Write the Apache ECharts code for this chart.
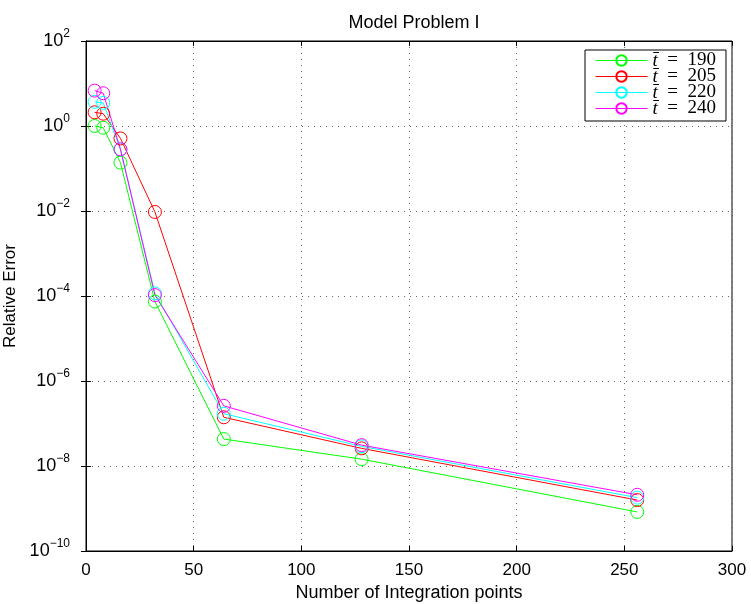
<!DOCTYPE html>
<html>
<head>
<meta charset="utf-8">
<script src="https://cdn.jsdelivr.net/npm/echarts@6/dist/echarts.min.js"></script>
<style>
  html, body { margin: 0; padding: 0; background: #fff; }
  #main { width: 751px; height: 604px; }
</style>
</head>
<body>
<div id="main"></div>
<script>
// number of integration points
var points = [4, 8, 16, 32, 64, 128, 256];
// relative error for each t-bar
var err190 = [1.0, 0.91, 0.137, 7.4e-5, 4.3e-8, 1.45e-8, 8.3e-10];
var err205 = [2.1, 1.95, 0.51, 0.0095, 1.4e-7, 2.6e-8, 1.58e-9];
var err220 = [3.7, 3.5, 0.28, 1.15e-4, 1.7e-7, 2.9e-8, 1.8e-9];
var err240 = [6.8, 5.9, 0.283, 1.05e-4, 2.6e-7, 3.1e-8, 2.1e-9];
var names = ['190', '205', '220', '240'];
var colors = ['#00ff00', '#ff0000', '#00ffff', '#ff00ff'];

function pairs(ys) {
    return points.map(function (x, i) { return [x, ys[i]]; });
}

var myChart = echarts.init(document.getElementById('main'));
var sans = 'Liberation Sans, Arial, sans-serif';
var serif = 'Liberation Serif, Times New Roman, serif';
var dotted = { color: '#666', type: [1, 5], width: 1 };
var tick = { inside: true, length: 5, lineStyle: { color: '#000' } };

var option = {
    color: colors,
    animation: false,
    title: {
        text: 'Model Problem I',
        left: 409, top: 9, textAlign: 'center',
        textStyle: { fontFamily: sans, fontSize: 18, fontWeight: 'normal', color: '#000' }
    },
    legend: {
        left: 585, top: 50,
        orient: 'vertical',
        itemWidth: 52, itemHeight: 13, itemGap: -3,
        padding: [1, 10, 3, 10],
        borderColor: '#000', borderWidth: 1,
        backgroundColor: '#fff',
        lineStyle: { width: 1 },
        formatter: function (name) { return '{i|t\u0304}\u2002=\u2002' + name; },
        textStyle: {
            fontFamily: serif, fontSize: 19, color: '#000',
            rich: { i: { fontStyle: 'italic', fontFamily: serif, fontSize: 19 } }
        }
    },
    grid: {
        left: 86, right: 19, top: 41, bottom: 53,
        outerBoundsMode: 'none',
        show: true, borderColor: '#000', borderWidth: 1
    },
    xAxis: [{
        type: 'value', min: 0, max: 300, interval: 50,
        name: 'Number of Integration points', nameLocation: 'middle', nameGap: 29,
        nameTextStyle: { fontFamily: sans, fontSize: 18, color: '#000' },
        axisLine: { lineStyle: { color: '#000' } },
        axisTick: tick,
        axisLabel: { fontFamily: sans, fontSize: 17, color: '#000', margin: 11 },
        splitLine: { show: true, lineStyle: dotted }
    }, {
        type: 'value', min: 0, max: 300, interval: 50, position: 'top',
        axisLine: { lineStyle: { color: '#000' } },
        axisTick: tick,
        axisLabel: { show: false }, splitLine: { show: false }
    }],
    yAxis: [{
        type: 'log', logBase: 10, min: 1e-10, max: 1e2, interval: 2,
        name: 'Relative Error', nameLocation: 'middle', nameGap: 56,
        nameTextStyle: { fontFamily: sans, fontSize: 17, color: '#000' },
        axisLine: { lineStyle: { color: '#000' } },
        axisTick: tick,
        axisLabel: {
            fontFamily: sans, fontSize: 17, color: '#000', margin: 16,
            formatter: function (v) {
                var e = Math.round(Math.log10(v));
                return '{b|10}{s|' + (e < 0 ? '\u2212' + (-e) : e) + '}';
            },
            rich: {
                b: { fontFamily: sans, fontSize: 18, color: '#000' },
                s: { fontFamily: sans, fontSize: 12, color: '#000', padding: [0, 0, 14, 0] }
            }
        },
        splitLine: { show: true, lineStyle: dotted }
    }, {
        type: 'log', logBase: 10, min: 1e-10, max: 1e2, interval: 2, position: 'right',
        axisLine: { lineStyle: { color: '#000' } },
        axisTick: tick,
        axisLabel: { show: false }, splitLine: { show: false }
    }],
    series: [err190, err205, err220, err240].map(function (ys, k) {
        return {
            name: names[k],
            type: 'line',
            data: pairs(ys),
            symbol: 'circle', symbolSize: 13,
            lineStyle: { width: 1, color: colors[k] },
            itemStyle: { color: 'rgba(0,0,0,0)', borderColor: colors[k], borderWidth: 1 }
        };
    })
};
myChart.setOption(option);
</script>
</body>
</html>
